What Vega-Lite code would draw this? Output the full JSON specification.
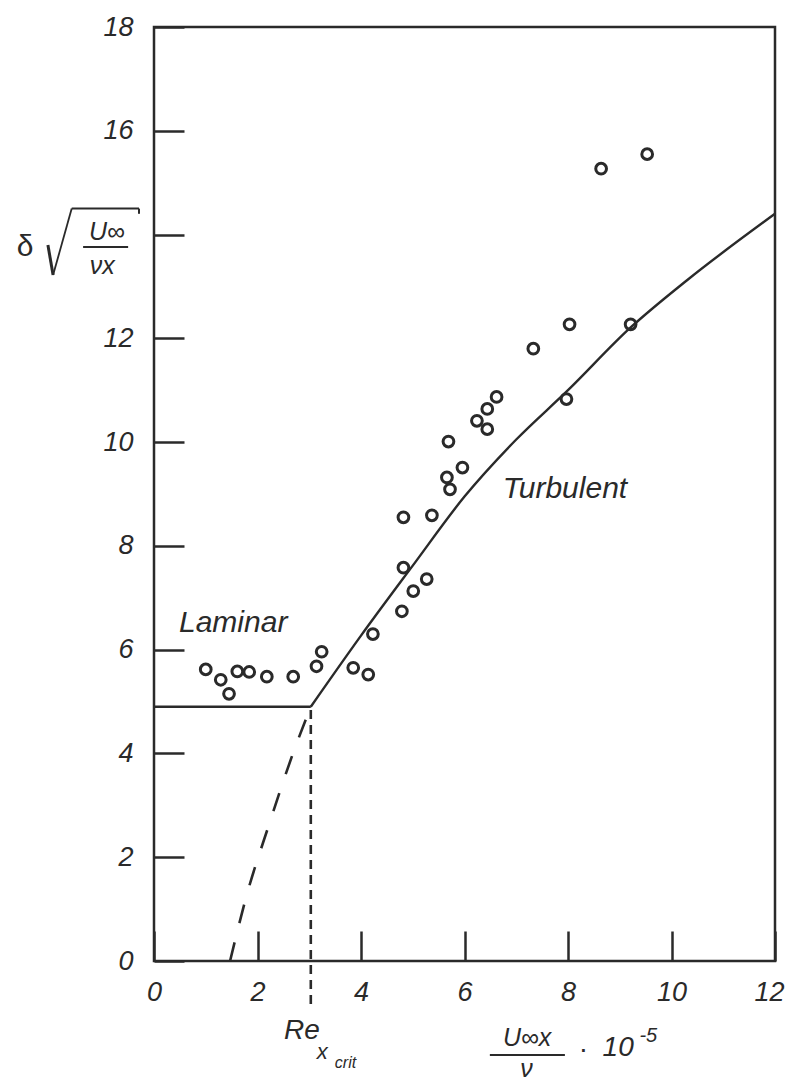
{
  "$schema": "https://vega.github.io/schema/vega-lite/v6.json",
  "width": 621,
  "height": 934,
  "autosize": {"type": "none"},
  "padding": {"left": 154, "top": 27, "right": 10, "bottom": 121},
  "background": "white",
  "data": {"values": [{}]},
  "config": {
    "view": {"stroke": "#2a2a2a", "strokeWidth": 2.5},
    "font": "Liberation Sans",
    "text": {"font": "Liberation Sans", "fontStyle": "italic", "color": "#2a2a2a"}
  },
  "datasets": {
    "pts": [
      {"re": 1.00, "d": 5.62}, {"re": 1.29, "d": 5.42}, {"re": 1.45, "d": 5.15},
      {"re": 1.61, "d": 5.58}, {"re": 1.84, "d": 5.57}, {"re": 2.18, "d": 5.48},
      {"re": 2.69, "d": 5.48}, {"re": 3.14, "d": 5.68}, {"re": 3.24, "d": 5.96},
      {"re": 3.85, "d": 5.65}, {"re": 4.14, "d": 5.52}, {"re": 4.23, "d": 6.30},
      {"re": 4.79, "d": 6.74}, {"re": 4.82, "d": 7.58}, {"re": 5.01, "d": 7.13},
      {"re": 5.27, "d": 7.36}, {"re": 4.82, "d": 8.55}, {"re": 5.37, "d": 8.59},
      {"re": 5.72, "d": 9.09}, {"re": 5.66, "d": 9.32}, {"re": 5.96, "d": 9.51},
      {"re": 5.69, "d": 10.01}, {"re": 6.24, "d": 10.41}, {"re": 6.44, "d": 10.25},
      {"re": 6.44, "d": 10.64}, {"re": 6.62, "d": 10.87}, {"re": 7.33, "d": 11.80},
      {"re": 7.97, "d": 10.83}, {"re": 8.03, "d": 12.27}, {"re": 9.21, "d": 12.27},
      {"re": 8.64, "d": 15.27}, {"re": 9.53, "d": 15.55}
    ],
    "turb": [
      {"re": 3.03, "d": 4.9}, {"re": 4.0, "d": 6.27}, {"re": 5.0, "d": 7.62},
      {"re": 6.0, "d": 8.95}, {"re": 7.0, "d": 10.05}, {"re": 8.0, "d": 11.0},
      {"re": 9.2, "d": 12.2}, {"re": 10.3, "d": 13.12}, {"re": 12.0, "d": 14.4}
    ],
    "extrap": [
      {"re": 3.03, "d": 4.9}, {"re": 2.7, "d": 4.04}, {"re": 2.2, "d": 2.56},
      {"re": 1.8, "d": 1.3}, {"re": 1.47, "d": 0}
    ]
  },
  "layer": [
    {
      "data": {"name": "pts"},
      "mark": {"type": "point", "shape": "circle", "filled": false, "size": 115, "strokeWidth": 3, "color": "#2a2a2a", "opacity": 1},
      "encoding": {
        "x": {
          "field": "re", "type": "quantitative",
          "scale": {"domain": [0, 12], "nice": false, "zero": false},
          "axis": {
            "values": [0, 2, 4, 6, 8, 10, 12], "title": null, "grid": false, "domain": false,
            "tickSize": -30, "tickWidth": 2.5, "tickColor": "#2a2a2a",
            "labelFontSize": 27, "labelFontStyle": "italic", "labelColor": "#2a2a2a",
            "labelPadding": 48, "labelFlush": false, "labelFont": "Liberation Sans",
            "labelOffset": {"condition": {"test": "datum.value == 12", "value": -6}, "value": 0}
          }
        },
        "y": {
          "field": "d", "type": "quantitative",
          "scale": {"domain": [0, 18], "nice": false, "zero": false},
          "axis": {
            "values": [0, 2, 4, 6, 8, 10, 12, 14, 16, 18], "title": null, "grid": false, "domain": false,
            "tickSize": -30, "tickWidth": 2.5, "tickColor": "#2a2a2a",
            "labelFontSize": 27, "labelFontStyle": "italic", "labelColor": "#2a2a2a",
            "labelPadding": 51, "labelFlush": false, "labelFont": "Liberation Sans",
            "labelExpr": "datum.value == 14 ? '' : datum.label"
          }
        }
      }
    },
    {
      "data": {"name": "turb"},
      "mark": {"type": "line", "interpolate": "monotone", "color": "#2a2a2a", "strokeWidth": 2.4},
      "encoding": {"x": {"field": "re", "type": "quantitative"}, "y": {"field": "d", "type": "quantitative"}}
    },
    {
      "data": {"name": "extrap"},
      "mark": {"type": "line", "interpolate": "monotone", "color": "#2a2a2a", "strokeWidth": 2.6, "strokeDash": [19, 20]},
      "encoding": {"x": {"field": "re", "type": "quantitative"}, "y": {"field": "d", "type": "quantitative"}}
    },
    {
      "mark": {"type": "rule", "color": "#2a2a2a", "strokeWidth": 2.6},
      "encoding": {"x": {"datum": 0}, "x2": {"datum": 3.03}, "y": {"datum": 4.9}}
    },
    {
      "mark": {"type": "rule", "color": "#2a2a2a", "strokeWidth": 2.6, "strokeDash": [9, 6]},
      "encoding": {"x": {"datum": 3.03}, "y": {"datum": -0.83}, "y2": {"datum": 4.9}}
    },
    {
      "mark": {"type": "text", "text": "Laminar", "fontSize": 30, "align": "center", "baseline": "middle"},
      "encoding": {"x": {"datum": 1.53}, "y": {"datum": 6.52}}
    },
    {
      "mark": {"type": "text", "text": "Turbulent", "fontSize": 30, "align": "center", "baseline": "middle"},
      "encoding": {"x": {"datum": 7.94}, "y": {"datum": 9.09}}
    },
    {
      "mark": {"type": "text", "text": "Re", "fontSize": 28, "align": "center", "baseline": "middle"},
      "encoding": {"x": {"datum": 2.86}, "y": {"datum": -1.35}}
    },
    {
      "mark": {"type": "text", "text": "x", "fontSize": 22, "align": "center", "baseline": "middle"},
      "encoding": {"x": {"datum": 3.25}, "y": {"datum": -1.76}}
    },
    {
      "mark": {"type": "text", "text": "crit", "fontSize": 16, "align": "center", "baseline": "middle"},
      "encoding": {"x": {"datum": 3.7}, "y": {"datum": -1.97}}
    },
    {
      "mark": {"type": "text", "text": "U∞x", "fontSize": 25, "align": "center", "baseline": "middle"},
      "encoding": {"x": {"datum": 7.21}, "y": {"datum": -1.49}}
    },
    {
      "mark": {"type": "rule", "color": "#2a2a2a", "strokeWidth": 2},
      "encoding": {"x": {"datum": 6.49}, "x2": {"datum": 7.94}, "y": {"datum": -1.81}}
    },
    {
      "mark": {"type": "text", "text": "ν", "fontSize": 25, "align": "center", "baseline": "middle"},
      "encoding": {"x": {"datum": 7.2}, "y": {"datum": -2.08}}
    },
    {
      "mark": {"type": "text", "text": "·", "fontSize": 28, "fontStyle": "normal", "align": "center", "baseline": "middle"},
      "encoding": {"x": {"datum": 8.3}, "y": {"datum": -1.72}}
    },
    {
      "mark": {"type": "text", "text": "10", "fontSize": 28, "align": "center", "baseline": "middle"},
      "encoding": {"x": {"datum": 8.97}, "y": {"datum": -1.68}}
    },
    {
      "mark": {"type": "text", "text": "-5", "fontSize": 20, "align": "left", "baseline": "middle"},
      "encoding": {"x": {"datum": 9.38}, "y": {"datum": -1.45}}
    },
    {
      "mark": {"type": "text", "text": "δ", "fontSize": 30, "fontStyle": "normal", "align": "center", "baseline": "middle"},
      "encoding": {"x": {"datum": -2.49}, "y": {"datum": 13.76}}
    },
    {
      "mark": {"type": "rule", "color": "#2a2a2a", "strokeWidth": 3},
      "encoding": {"x": {"datum": -2.05}, "y": {"datum": 13.8}, "x2": {"datum": -1.95}, "y2": {"datum": 13.22}}
    },
    {
      "mark": {"type": "rule", "color": "#2a2a2a", "strokeWidth": 1.8},
      "encoding": {"x": {"datum": -1.95}, "y": {"datum": 13.22}, "x2": {"datum": -1.59}, "y2": {"datum": 14.5}}
    },
    {
      "mark": {"type": "rule", "color": "#2a2a2a", "strokeWidth": 2},
      "encoding": {"x": {"datum": -1.59}, "y": {"datum": 14.5}, "x2": {"datum": -0.29}, "y2": {"datum": 14.5}}
    },
    {
      "mark": {"type": "rule", "color": "#2a2a2a", "strokeWidth": 2},
      "encoding": {"x": {"datum": -0.29}, "y": {"datum": 14.5}, "x2": {"datum": -0.29}, "y2": {"datum": 14.4}}
    },
    {
      "mark": {"type": "text", "text": "U∞", "fontSize": 25, "align": "center", "baseline": "middle"},
      "encoding": {"x": {"datum": -0.91}, "y": {"datum": 14.05}}
    },
    {
      "mark": {"type": "rule", "color": "#2a2a2a", "strokeWidth": 2},
      "encoding": {"x": {"datum": -1.37}, "x2": {"datum": -0.5}, "y": {"datum": 13.76}}
    },
    {
      "mark": {"type": "text", "text": "νx", "fontSize": 25, "align": "center", "baseline": "middle"},
      "encoding": {"x": {"datum": -1.0}, "y": {"datum": 13.4}}
    }
  ]
}
